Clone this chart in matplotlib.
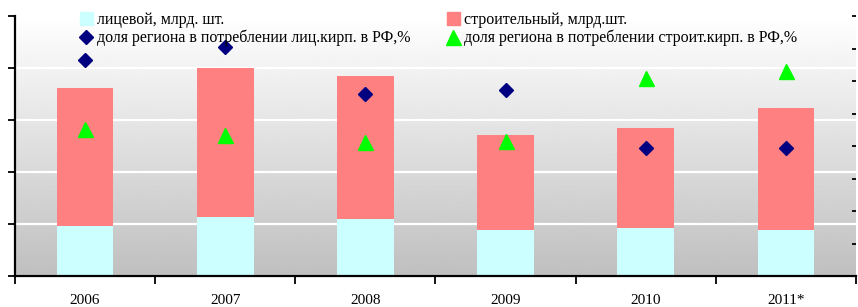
import numpy as np
import matplotlib.pyplot as plt
from matplotlib.lines import Line2D
from matplotlib.patches import Patch

plt.rcParams['font.family'] = ['Liberation Serif', 'DejaVu Serif']

years = ['2006', '2007', '2008', '2009', '2010', '2011*']
litsevoy = [0.96, 1.13, 1.10, 0.88, 0.92, 0.88]          # лицевой, млрд. шт.
stroit = [2.66, 2.87, 2.75, 1.83, 1.93, 2.35]            # строительный, млрд. шт.
dolya_lits = [6.65, 7.05, 5.60, 5.72, 3.95, 3.95]         # доля региона, лиц. кирп., %
dolya_stroit = [4.52, 4.34, 4.12, 4.15, 6.09, 6.31]       # доля региона, строит. кирп., %

lab_lits = 'лицевой, млрд. шт.'
lab_stroit = 'строительный, млрд.шт.'
lab_d_lits = 'доля региона в потреблении лиц.кирп. в РФ,%'
lab_d_stroit = 'доля региона в потреблении строит.кирп. в РФ,%'

x = np.arange(len(years))

fig = plt.figure(figsize=(8.58, 3.07), dpi=100)
ax = fig.add_axes([15/858, 1-276/307, 841/858, 260/307])

# серый градиентный фон
grad = np.linspace(1.0, 0.75, 256).reshape(-1, 1)
ax.imshow(grad, cmap='gray', vmin=0, vmax=1, aspect='auto',
          extent=[-0.5, 5.5, 0, 5], zorder=0)

ax.bar(x, litsevoy, width=0.405, color='#CCFFFF', zorder=2)
ax.bar(x, stroit, width=0.405, bottom=litsevoy, color='#FF8080', zorder=2)

ax.set_xlim(-0.5, 5.5)
ax.set_ylim(0, 5)
ax.set_yticks(np.arange(0, 6, 1))
ax.yaxis.grid(True, color='white', linewidth=1.6, zorder=1)
ax.set_axisbelow(True)

ax.set_xticks(np.arange(-0.5, 6, 1))
ax.set_xticklabels([])
ax.set_xticks(x, minor=True)
ax.set_xticklabels(years, minor=True, fontsize=11)
ax.tick_params(axis='x', which='major', direction='out', length=6, width=1.3)
ax.tick_params(axis='x', which='minor', length=0, pad=13)
ax.tick_params(axis='y', direction='out', length=5, width=1.3, labelleft=False)

for s in ['top', 'right']:
    ax.spines[s].set_visible(False)
ax.spines['left'].set_linewidth(1.6)
ax.spines['bottom'].set_linewidth(1.6)

ax2 = ax.twinx()
ax2.set_ylim(0, 8)
ax2.set_yticks(np.arange(0, 9, 1))
ax2.tick_params(axis='y', direction='in', length=3, width=1.3, labelright=False)
for s in ['top', 'right', 'left', 'bottom']:
    ax2.spines[s].set_visible(False)

ax2.plot(x, dolya_lits, linestyle='none', marker='D', markersize=7.6,
         color='#000080', zorder=5)
ax2.plot(x, dolya_stroit, linestyle='none', marker='^', markersize=10.8,
         color='#00FF00', zorder=5)

h1 = [Patch(color='#CCFFFF'),
      Line2D([], [], linestyle='none', marker='D', markersize=7.6, color='#000080')]
h2 = [Patch(color='#FF8080'),
      Line2D([], [], linestyle='none', marker='^', markersize=10.8, color='#00FF00')]

leg_kw = dict(loc='upper left', frameon=False, fontsize=11.5, borderpad=0,
              borderaxespad=0, handlelength=0.8, handleheight=0.8,
              handletextpad=0.25, labelspacing=0.12)
fig.legend(h1, [lab_lits, lab_d_lits], bbox_to_anchor=(80/858, 1-12/307), **leg_kw)
fig.legend(h2, [lab_stroit, lab_d_stroit], bbox_to_anchor=(447/858, 1-12/307), **leg_kw)

fig.savefig('out.png', dpi=100)
